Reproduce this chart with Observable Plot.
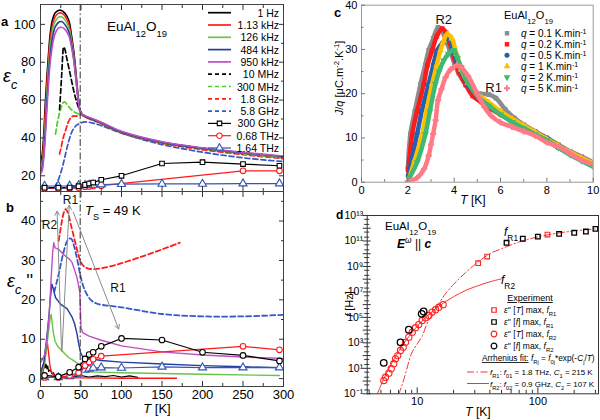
<!DOCTYPE html>
<html><head><meta charset="utf-8">
<script src="https://cdn.jsdelivr.net/npm/d3@7"></script>
<script src="https://cdn.jsdelivr.net/npm/@observablehq/plot@0.6"></script>
<style>
body{margin:0;background:#fff;}
#wrap{position:relative;width:600px;height:420px;font-family:"Liberation Sans",Arial,sans-serif;}
#wrap svg{position:absolute;left:0;top:0;overflow:visible;}
</style></head><body><div id="wrap"></div>
<script>
// ================= DATA =================
// Panel a: eps_c' vs T  ([T (K), eps'])
const freqLabels = ["1 Hz","1.13 kHz","126 kHz","484 kHz","950 kHz","10 MHz","300 MHz","1.8 GHz","5.8 GHz","300 GHz","0.68 THz","1.64 THz"];
const epsRe_1Hz   = [[0,27],[2,31],[4,42],[6,59],[8,73],[10,85],[12,95],[14.5,102],[18,106],[22,107.3],[25,107.5],[30,106],[35,102],[38,95],[41,86],[43,78],[45,68.6],[47,60],[49,54.5],[52,52.3],[55,51.5],[75,48],[100,43],[150,37.6],[200,34.5],[250,32],[300,30]];
const epsRe_113k  = [[0,25],[2,28],[4,38],[6,54],[8,69],[10,82],[12,92],[15,100],[18,104],[22,105.8],[26,106],[30,104.5],[35,100],[38,93],[41,84],[43,76],[45,67],[47,59],[49,54],[52,52.3],[55,51.5],[75,48],[100,43],[150,37.6],[200,34.5],[250,32],[300,30]];
const epsRe_126k  = [[0,23.5],[2,26],[4,34],[6,48],[8,64],[10,77],[12,88],[15,97],[18,101.5],[22,103.7],[26,104],[30,102.5],[35,98],[38,91.5],[41,83],[43,75],[45,66.5],[47,59],[49,54],[52,52.3],[55,51.5],[75,48],[100,43],[150,37.6],[200,34.5],[250,32],[300,30]];
const epsRe_484k  = [[0,22],[2,24],[4,31],[6,44],[8,60],[10,73],[12,84],[15,93.5],[18,98.5],[22,101],[26,101.5],[30,100],[35,96],[38,90],[41,82],[43,74.5],[45,66],[47,58.5],[49,54],[52,52.3],[55,51.5],[75,48],[100,43.2],[150,37.8],[200,34.6],[250,32.2],[300,30.2]];
const epsRe_950k  = [[0,21],[2,22.5],[4,29],[6,41],[8,56],[10,69],[12,80],[15,89.5],[18,95],[22,98],[26,98.5],[30,97.5],[35,94],[38,88.5],[41,81],[43,74],[45,66],[47,58.5],[49,54],[52,52.5],[55,51.8],[75,48.3],[100,43.5],[150,38],[200,34.8],[250,32.4],[300,30.4]];
const epsRe_10M   = [[23.5,55],[25,65],[26.5,76],[27.5,84],[28.5,88],[30,87],[32,83],[35,77],[38,71],[41,65],[44,60],[47,56],[49,54],[52,52.3],[55,51.5],[75,48],[100,43],[150,37.6],[200,34.5],[250,32],[300,30]];
const epsRe_300M  = [[18.5,42],[20,46],[22,50.5],[24,54],[26,57],[28,58.6],[30,59],[33,57.5],[37,55.5],[41,54],[45,53],[49,52.5],[55,51.3],[75,47.8],[100,42.8],[150,37.4],[200,34.2],[250,31.6],[300,29.5]];
const epsRe_18G   = [[23.5,31.5],[25.5,35],[28,40],[31,44],[34,48],[37,50.5],[40,51.5],[44,51.5],[48,52],[50,52.3],[55,51],[75,47.5],[100,42.6],[150,37.2],[200,33.8],[250,31.2],[300,29]];
const epsRe_58G   = [[17,14],[20,16],[23,19],[26,23],[29,28],[32,33.5],[35,38.5],[38,42.5],[41,45],[44,46.5],[48,47.5],[55,48.5],[65,47.8],[75,46.5],[100,42.5],[150,36.5],[200,32.5],[250,29.5],[300,27.5]];
// THz (markers)
const T_thz  = [5,22,36,47,55,60,65,75,100,150,200,250,295];
const T_068  = [5,22,36,47,55,60,65,75,250,295];
const epsRe_300G  = [13.7,13.7,13.8,14.5,15.2,15.9,16.4,17.9,20,26.5,27.2,26.2,25.3];
const epsRe_068T  = [13.4,13.4,13.5,13.8,14.2,14.4,14.6,14.8,22.6,22.6];
const epsRe_164T  = [14.6,14.6,14.7,14.9,15.0,15.1,15.2,15.4,15.6,15.7,15.7,15.9,15.9];

// Panel b: eps_c'' vs T
const epsIm_1Hz   = [[0,0.3],[1.5,1.5],[3,3.5],[4,2.5],[5,4],[6,2.8],[7,3.6],[8,2.5],[9,3.2],[10,1.8],[12,2.3],[14,1.2],[16,1.5],[18,0.6],[22,0.3],[30,0.2],[40,0.4],[50,0.8],[60,0.4],[70,0.7],[80,0.5],[90,0.8],[100,0.4],[110,0.7],[120,0.3]];
const epsIm_113k  = [[0,0.3],[3,1.5],[5,4],[7,7],[8.5,9],[10,6.5],[11.5,3.5],[13,2],[15,1.2],[18,0.7],[22,0.4],[30,0.3],[50,0.2],[100,0.1],[168,0.1]];
const epsIm_126k  = [[0,1],[4,3],[7,7],[10,12],[12,15.5],[13.2,16.3],[14.5,14],[16,11.5],[18,9.5],[21,8.3],[25,7.4],[30,6.3],[35,5.3],[40,4.7],[45,4.0],[49,3.3],[52,2],[60,1.7],[100,1.5],[150,1.3],[200,1.1],[295,0.8]];
const epsIm_484k  = [[0,1.5],[4,4],[7,9],[10,15],[12,20],[14,24],[15.5,23],[18.5,20.6],[24.7,18.9],[33,17.7],[39,15.6],[42,14],[45,11.4],[47,9],[49.3,6.7],[52,5.6],[60,5.1],[75,4.6],[100,4.2],[150,3.7],[200,3.3],[250,3],[295,2.8]];
const epsIm_950k  = [[0,4],[5,6],[8,10],[11,17],[13,25],[15,32],[16.4,34.5],[18,33.2],[22.6,32.8],[26,32],[30.8,31.1],[35,30.5],[39,29.5],[45,25.7],[48.5,22],[50,13],[52,11.7],[60,10.8],[74,9.8],[100,8.3],[150,6.8],[200,6],[250,5.5],[300,5.1]];
const epsIm_18G   = [[22.5,35],[24,37],[26.5,40],[29,42.3],[31,43],[33,42.5],[35,41.3],[37,39.5],[40,37],[43,34.5],[46,32],[49,30],[53,28.6],[58,28],[65,27.8],[75,28],[90,28.7],[100,29.3],[127,31.1],[150,32.8],[172,34.5]];
const epsIm_58G   = [[17,22],[20,24.5],[23,27],[26,30],[29,32.5],[32,34.5],[35,35.5],[38,35.5],[41,34],[44,31.5],[47,28.5],[50,25.5],[55,22.3],[62,20],[70,19],[85,18.5],[100,18.1],[150,16.4],[200,15.8],[250,15.8],[300,16.2]];
const epsIm_300G  = [0.8,0.5,1.6,2.9,5.0,6.1,6.7,8.2,10.2,9.8,6.7,5.9,4.5];
const epsIm_068T  = [0.3,0.3,0.8,1.5,3.3,4.2,4.9,5.7,8.2,7.3];
const epsIm_164T  = [0.3,0.3,0.6,1.3,2.2,2.5,2.7,2.8,2.7,3.0,2.8,2.8,2.8];
const bLabels = [{T:11,v:39,text:"R2"},{T:37,v:45.3,text:"R1"},{T:95.6,v:23,text:"R1"}];
const bArrows = [{T1:26,v1:7,T2:20.5,v2:42.5},{T1:26.5,v1:7,T2:35.5,v2:44},{T1:40.3,v1:42.3,T2:96.5,v2:12.6}];

// Panel c: pyrocurrent J/q vs T for heating rates
const rateLabels = ["0.1","0.2","0.5","1","2","5"];
const Jq_01 = [[2,3],[2.11,10.9],[2.3,16],[2.55,22.2],[2.75,26.5],[2.9,29.8],[3.1,32.5],[3.3,35],[3.45,34.5],[3.6,32.5],[3.8,30],[4.0,27],[4.2,24.5],[4.5,22],[4.8,20.5],[5.1,20],[5.5,19.8],[5.8,19],[6.2,16.5],[6.6,14.5],[7,13],[7.5,11.5],[8,10],[8.5,8.5],[9,7],[9.5,5.8],[10,4.5]];
const Jq_02 = [[2.02,2.7],[2.19,10.9],[2.4,16],[2.69,22.2],[2.85,26.5],[3.05,29.8],[3.25,33],[3.48,34.7],[3.65,33.8],[3.8,31.5],[4.0,28],[4.2,25],[4.5,22],[4.8,19.5],[5.2,18],[5.6,16.5],[6,15.3],[6.5,13.8],[7,12.3],[7.5,11],[8,9.5],[8.5,7.8],[9,6.5],[9.5,5.2],[10,4]];
const Jq_05 = [[2.02,1.5],[2.4,10.9],[2.6,16],[2.9,22.2],[3.1,26.5],[3.27,29.8],[3.5,31.5],[3.77,32.4],[3.95,30],[4.1,27.5],[4.3,25],[4.6,22],[5,19.5],[5.5,17.3],[6,15.5],[6.5,14],[7,12.5],[7.5,11.2],[8,10],[8.5,8.2],[9,6.8],[9.5,5.5],[10,4.3]];
const Jq_1  = [[2.05,0.8],[2.3,5],[2.62,10.9],[2.8,16],[3.05,22.2],[3.25,26.5],[3.41,29.8],[3.55,32],[3.7,33.5],[3.9,32.5],[4.1,29],[4.3,25.5],[4.6,22.5],[5,20],[5.5,18],[6,16],[6.5,14.3],[7,12.8],[7.5,11.3],[8,9.8],[8.5,8.2],[9,6.8],[9.5,5.5],[10,4.3]];
const Jq_2  = [[2.05,0.8],[2.4,4.5],[2.76,10.9],[2.95,16],[3.19,22.2],[3.35,25],[3.55,27.5],[3.75,29],[3.98,29.8],[4.15,28],[4.3,26],[4.6,22.5],[5,19.5],[5.5,17.3],[6,15.3],[6.5,13.6],[7,12.2],[7.5,10.8],[8,9.5],[8.5,7.8],[9,6.2],[9.5,4.8],[10,3.5]];
const Jq_5  = [[2,0.2],[2.4,1],[2.7,3],[2.9,6],[3.0,8.5],[3.09,10.9],[3.2,14],[3.3,18.5],[3.45,21],[3.63,23.7],[3.85,25.5],[4.13,26.4],[4.3,26],[4.6,24],[5,20],[5.3,17],[5.6,15],[6,13.5],[6.5,12.5],[7,11.5],[7.5,10.5],[8,9],[8.5,8],[9,6.5],[9.5,5],[10,4]];
const cLabels = [{T:3.55,v:36.8,text:"R2"},{T:5.7,v:21.4,text:"R1"}];

// Panel d: relaxation frequencies vs T (log-log)
const fitR1 = [[7,0.083],[7.5,0.5],[8,3.85],[9,1.6e2],[10,8.3e2],[11,3.4e3],[12,3.0e4],[13,1.1e5],[15,1.07e6],[17,6.5e6],[20,3.9e7],[25,3.1e8],[30,1.4e9],[40,1.0e10],[50,2.45e10],[70,8.3e10],[100,2.1e11],[150,4.3e11],[200,6.1e11],[250,7.6e11],[318,9.2e11]];
const fitR2 = [[4.6,0.071],[5,0.46],[5.5,3.4],[6,16.2],[7,2.1e2],[8,1.4e3],[9,6.0e3],[10,2.0e4],[12,1.2e5],[15,7.2e5],[20,4.2e6],[25,1.26e7],[30,2.5e7],[40,6.2e7],[50,1.06e8]];
const dR1_T_T = [32,38,120];         const dR1_T_f = [1.8e9,6.0e9,3.2e11];
const dR1_f_T = [55,75,100,150,200,250,300]; const dR1_f_f = [7.2e10,1.5e11,2.2e11,3.6e11,4.4e11,5.5e11,8.9e11];
const dR2_T_T = [5.28,5.46,5.82,6.09,6.39,6.61,6.9,7.27,7.66,8.0,8.52,9.1,9.68,10.3,11.0,11.7,12.5,13.3,14.2,15.1,16.4];
const dR2_T_f = [1.1,2.0,4.2,9.3,23,56,100,250,460,1.1e3,2.8e3,6.9e3,1.55e4,2.75e4,5.8e4,9.3e4,1.4e5,2.6e5,4.0e5,6.3e5,1.0e6];
const dR2_f_T = [5.28,7.27,8.52,10.9,11.3]; const dR2_f_f = [27,1.1e3,1.07e4,1.9e5,2.9e5];

// ================= HELPERS =================
const W = 600, H = 420;
const pairs = (arr) => arr.map(([T, v]) => ({T, v}));
const zipTV = (Ts, vs) => Ts.map((T, i) => ({T, v: vs[i]}));
const base = {width: W, height: H, style: {background: "transparent", overflow: "visible", fontFamily: "'Liberation Sans', Arial, sans-serif"}};
function tk(kind, anchor, values, size, color = "#333", cross = false) {
  const sh = cross ? size / 2 : size;
  const o = {anchor, ticks: values, tickSize: size, tickFormat: () => "", label: null, stroke: color};
  if (kind === "x") { o.dy = anchor === "bottom" ? -sh : sh; return Plot.axisX(o); }
  o.dx = anchor === "left" ? sh : -sh; return Plot.axisY(o);
}
function lb(kind, anchor, values, fmt, fontSize, pad) {
  const o = {anchor, ticks: values, tickSize: 0, tickPadding: pad, tickFormat: fmt, label: null, fontSize};
  return kind === "x" ? Plot.axisX(o) : Plot.axisY(o);
}
const range = (a, b, s) => d3.range(a, b + 1e-9, s);
const dashDot = "7,2.5,1.5,2.5";
const C = {black:"#000", red:"#ff1a1a", green:"#6cc24a", blue:"#1f3fa0", mag:"#c04ec4", dgreen:"#4fcf25", dblue:"#3557c8", tblue:"#3355b5"};
const triDown = {draw(ctx, size){ const y = -Math.sqrt(size / (Math.sqrt(3) * 3)); ctx.moveTo(0, -y * 2); ctx.lineTo(-Math.sqrt(3) * y, y); ctx.lineTo(Math.sqrt(3) * y, y); ctx.closePath(); }};

const wrap = document.getElementById("wrap");

// ================= PANEL A =================
const aSolid = [[epsRe_1Hz,C.black],[epsRe_113k,C.red],[epsRe_126k,C.green],[epsRe_484k,C.blue],[epsRe_950k,C.mag]];
const aDash = [[epsRe_58G,C.dblue],[epsRe_18G,C.red],[epsRe_300M,C.dgreen],[epsRe_10M,C.black]];
const pa = Plot.plot({...base, marginLeft: 40, marginRight: 317, marginTop: 4, marginBottom: 229,
  x: {domain: [0, 300]}, y: {domain: [11.7, 110.5]},
  marks: [
    ...aDash.map(([d, c]) => Plot.line(pairs(d), {x: "T", y: "v", stroke: c, strokeWidth: 1.7, strokeDasharray: "5,3", curve: "catmull-rom", clip: true})),
    ...aSolid.map(([d, c]) => Plot.line(pairs(d), {x: "T", y: "v", stroke: c, strokeWidth: 1.6, curve: "catmull-rom", clip: true})),
    Plot.ruleX([49], {stroke: "#333", strokeWidth: 1, strokeDasharray: dashDot}),
    Plot.line(zipTV(T_068, epsRe_068T), {x: "T", y: "v", stroke: C.red, strokeWidth: 1.2}),
    Plot.line(zipTV(T_thz, epsRe_164T), {x: "T", y: "v", stroke: C.tblue, strokeWidth: 1.2}),
    Plot.line(zipTV(T_thz, epsRe_300G), {x: "T", y: "v", stroke: C.black, strokeWidth: 1.2}),
    Plot.dot(zipTV(T_068, epsRe_068T), {x: "T", y: "v", stroke: C.red, fill: "white", r: 2.8, strokeWidth: 1.1}),
    Plot.dot(zipTV(T_thz, epsRe_164T), {x: "T", y: "v", symbol: "triangle", stroke: C.tblue, fill: "white", r: 3, strokeWidth: 1.1}),
    Plot.dot(zipTV(T_thz, epsRe_300G), {x: "T", y: "v", symbol: "square", stroke: C.black, fill: "white", r: 2.6, strokeWidth: 1.1}),
    Plot.frame({stroke: "#444"}),
    tk("x", "bottom", range(0, 300, 50), 5), tk("x", "bottom", range(25, 275, 50), 3),
    tk("x", "top", range(0, 300, 50), 5), tk("x", "top", range(25, 275, 50), 3),
    tk("y", "left", [20, 40, 60, 80, 100], 5), tk("y", "left", [30, 50, 70, 90], 3),
    tk("y", "right", [20, 40, 60, 80, 100], 5), tk("y", "right", [30, 50, 70, 90], 3),
    lb("y", "left", [20, 40, 60, 80, 100], d => d, 13, 5)
  ]});
wrap.appendChild(pa);

// ================= PANEL B =================
const pb = Plot.plot({...base, marginLeft: 40, marginRight: 317, marginTop: 191, marginBottom: 34,
  x: {domain: [0, 300]}, y: {domain: [-2.0, 47.5]},
  marks: [
    Plot.line(pairs(epsIm_1Hz), {x: "T", y: "v", stroke: C.black, strokeWidth: 1.2, clip: true}),
    Plot.line(pairs(epsIm_113k), {x: "T", y: "v", stroke: C.red, strokeWidth: 1.4, clip: true}),
    Plot.line(pairs(epsIm_126k), {x: "T", y: "v", stroke: C.green, strokeWidth: 1.4, clip: true}),
    Plot.line(pairs(epsIm_484k), {x: "T", y: "v", stroke: C.blue, strokeWidth: 1.4, clip: true}),
    Plot.line(pairs(epsIm_950k), {x: "T", y: "v", stroke: C.mag, strokeWidth: 1.4, clip: true}),
    Plot.line(pairs(epsIm_58G), {x: "T", y: "v", stroke: C.dblue, strokeWidth: 1.8, strokeDasharray: "5,3", curve: "catmull-rom", clip: true}),
    Plot.line(pairs(epsIm_18G), {x: "T", y: "v", stroke: C.red, strokeWidth: 1.8, strokeDasharray: "5,3", curve: "catmull-rom", clip: true}),
    Plot.ruleX([49], {stroke: "#333", strokeWidth: 1, strokeDasharray: dashDot}),
    Plot.line(zipTV(T_thz, epsIm_164T), {x: "T", y: "v", stroke: C.tblue, strokeWidth: 1.2}),
    Plot.line(zipTV(T_068, epsIm_068T), {x: "T", y: "v", stroke: C.red, strokeWidth: 1.2}),
    Plot.line(zipTV(T_thz, epsIm_300G), {x: "T", y: "v", stroke: C.black, strokeWidth: 1.2}),
    Plot.dot(zipTV(T_thz, epsIm_164T), {x: "T", y: "v", symbol: "triangle", stroke: C.tblue, fill: "white", r: 3, strokeWidth: 1.1}),
    Plot.dot(zipTV(T_068, epsIm_068T), {x: "T", y: "v", stroke: C.red, fill: "white", r: 2.8, strokeWidth: 1.1}),
    Plot.dot(zipTV(T_thz, epsIm_300G), {x: "T", y: "v", stroke: C.black, fill: "white", r: 2.8, strokeWidth: 1.1}),
    Plot.arrow(bArrows, {x1: "T1", y1: "v1", x2: "T2", y2: "v2", stroke: "#8a8a8a", strokeWidth: 1, headLength: 7}),
    Plot.text(bLabels, {x: "T", y: "v", text: "text", fontSize: 12, fill: "#111"}),
    Plot.frame({stroke: "#444"}),
    tk("x", "bottom", range(0, 300, 50), 5), tk("x", "bottom", range(25, 275, 50), 3),
    tk("x", "top", range(0, 300, 50), 5), tk("x", "top", range(25, 275, 50), 3),
    tk("y", "left", [0, 10, 20, 30, 40], 5), tk("y", "left", [5, 15, 25, 35, 45], 3),
    tk("y", "right", [0, 10, 20, 30, 40], 5), tk("y", "right", [5, 15, 25, 35, 45], 3),
    lb("y", "left", [0, 10, 20, 30, 40], d => d, 13, 5),
    lb("x", "bottom", range(0, 300, 50), d => d, 13, 3)
  ]});
wrap.appendChild(pb);

// ================= PANEL C =================
const cSeries = [
  [Jq_01, "#8c8c8c", "square"], [Jq_02, "#ff1a1a", "square"], [Jq_05, "#2560b0", "circle"],
  [Jq_1, "#ffbf00", "triangle"], [Jq_2, "#3cba74", triDown], [Jq_5, "#ff7a86", "cross"]
];
const pc = Plot.plot({...base, marginLeft: 361, marginRight: 7.3, marginTop: 4.7, marginBottom: 238.3,
  x: {domain: [0, 10]}, y: {domain: [0, 40]},
  marks: [
    ...cSeries.flatMap(([d, c, s]) => [
      Plot.line(pairs(d), {x: "T", y: "v", stroke: c, strokeWidth: 4.5, curve: "catmull-rom", clip: true}),
      Plot.dot(pairs(d), {x: "T", y: "v", fill: c, symbol: s, r: 2.6, clip: true})
    ]),
    Plot.text(cLabels, {x: "T", y: "v", text: "text", fontSize: 13, fill: "#111"}),
    Plot.frame({stroke: "#999"}),
    tk("x", "bottom", range(0, 10, 2), 4, "#777"), tk("x", "bottom", range(1, 9, 2), 2.5, "#777"),
    tk("y", "left", range(0, 40, 10), 4, "#777"), tk("y", "left", range(5, 35, 10), 2.5, "#777"),
    lb("x", "bottom", range(0, 10, 2), d => d, 11, 4),
    lb("y", "left", range(0, 40, 10), d => d, 11, 4)
  ]});
wrap.appendChild(pc);

// ================= PANEL D =================
const supMap = {"-":"⁻","0":"⁰","1":"¹","2":"²","3":"³","4":"⁴","5":"⁵","6":"⁶","7":"⁷","8":"⁸","9":"⁹"};
const sup = (n) => String(n).split("").map(ch => supMap[ch]).join("");
const yDec = d3.range(-1, 14).map(e => Math.pow(10, e));
const yMinor = d3.range(-1, 13).flatMap(e => [2, 5].map(m => m * Math.pow(10, e)));
const xMajor = [10, 100];
const xMinor = [4, 5, 6, 7, 8, 9, 20, 30, 40, 50, 60, 70, 80, 90, 200, 300];
const pd = Plot.plot({...base, marginLeft: 366.7, marginRight: 2, marginTop: 215, marginBottom: 26.7,
  x: {type: "log", domain: [3.85, 318]}, y: {type: "log", domain: [0.1, 1e13]},
  marks: [
    Plot.line(pairs(fitR1), {x: "T", y: "v", stroke: "#ff3030", strokeWidth: 1, strokeDasharray: dashDot, curve: "catmull-rom", clip: true}),
    Plot.line(pairs(fitR2), {x: "T", y: "v", stroke: "#ff3030", strokeWidth: 1, curve: "catmull-rom", clip: true}),
    Plot.dot(zipTV(dR2_T_T, dR2_T_f), {x: "T", y: "v", stroke: "#ff2020", r: 3.1, strokeWidth: 1.1}),
    Plot.dot(zipTV(dR2_f_T, dR2_f_f), {x: "T", y: "v", stroke: "#000", r: 3.3, strokeWidth: 1.3}),
    Plot.dot(zipTV(dR1_T_T, dR1_T_f), {x: "T", y: "v", symbol: "square", stroke: "#ff2020", r: 2.6, strokeWidth: 1.1}),
    Plot.dot(zipTV(dR1_f_T, dR1_f_f), {x: "T", y: "v", symbol: "square", stroke: "#000", r: 2.6, strokeWidth: 1.3}),
    Plot.frame({stroke: "#333"}),
    tk("x", "bottom", xMajor, 6), tk("x", "bottom", xMinor, 3.5),
    tk("y", "left", yDec, 8, "#333", true), tk("y", "left", yMinor, 5, "#333", true),
    lb("x", "bottom", xMajor, d => d, 11, 3),
    lb("y", "left", yDec, v => { const e = Math.round(Math.log10(v)); return (e % 2 !== 0) ? "10" + sup(e) : ""; }, 10.5, 4)
  ]});
wrap.appendChild(pd);

// ================= OVERLAY TEXT & LEGENDS =================
const ov = d3.select(wrap).append("svg").attr("width", W).attr("height", H)
  .attr("font-family", "'Liberation Sans', Arial, sans-serif");
function rich(x, y, parts, o = {}) {
  const t = ov.append("text").attr("x", x).attr("y", y).attr("font-size", o.size || 12)
    .attr("text-anchor", o.anchor || "start").attr("fill", o.fill || "#000");
  if (o.rotate) t.attr("transform", `rotate(${o.rotate},${x},${y})`);
  if (o.weight) t.attr("font-weight", o.weight);
  for (const p of parts) {
    const [s, st = ""] = typeof p === "string" ? [p, ""] : p;
    const ts = t.append("tspan").text(s);
    if (st.includes("i")) ts.attr("font-style", "italic");
    if (st.includes("b")) ts.attr("font-weight", "bold");
    if (st.includes("_")) ts.attr("baseline-shift", "sub").attr("font-size", "70%");
    if (st.includes("^")) ts.attr("baseline-shift", "super").attr("font-size", "70%");
    if (st.includes("u")) ts.attr("text-decoration", "underline");
  }
  return t;
}
// panel letters
rich(1, 26, ["a"], {size: 13, weight: "bold"});
rich(6, 212, ["b"], {size: 13, weight: "bold"});
rich(334, 17, ["c"], {size: 13, weight: "bold"});
rich(336, 219, ["d"], {size: 12, weight: "bold"});
// panel a
rich(107, 31, ["EuAl", ["12", "_"], "O", ["19", "_"]], {size: 13.5});
rich(3, 82, [["ε", "i"], ["c", "i_"], " '"], {size: 18});
// legend a
const aLeg = [
  {c: C.black, dash: null}, {c: C.red, dash: null}, {c: C.green, dash: null}, {c: C.blue, dash: null}, {c: C.mag, dash: null},
  {c: C.black, dash: "4,3"}, {c: C.dgreen, dash: "4,3"}, {c: C.red, dash: "4,3"}, {c: C.dblue, dash: "4,3"},
  {c: C.black, sym: d3.symbolSquare}, {c: C.red, sym: d3.symbolCircle}, {c: C.tblue, sym: d3.symbolTriangle}
];
aLeg.forEach((e, i) => {
  const y = 12.7 + i * 12.3;
  ov.append("line").attr("x1", 208).attr("x2", 231).attr("y1", y).attr("y2", y)
    .attr("stroke", e.c).attr("stroke-width", e.sym ? 1.2 : 1.7).attr("stroke-dasharray", e.dash);
  if (e.sym) ov.append("path").attr("d", d3.symbol().type(e.sym).size(e.sym === d3.symbolSquare ? 20 : 24)())
    .attr("transform", `translate(219.5,${y})`).attr("fill", "white").attr("stroke", e.c).attr("stroke-width", 1.1);
  rich(279, y + 4, [freqLabels[i]], {size: 10.5, anchor: "end"});
});
// panel b
rich(85, 215, [["T", "i"], ["S", "_"], " = 49 K"], {size: 13});
rich(7, 287, [["ε", "i"], ["c", "i_"], " ''"], {size: 18});
rich(157, 413, [["T", "i"], " [K]"], {size: 13, anchor: "middle"});
// panel c
rich(504, 19, ["EuAl", ["12", "_"], "O", ["19", "_"]], {size: 11});
const cSym = [d3.symbolSquare, d3.symbolSquare, d3.symbolCircle, d3.symbolTriangle, triDown, d3.symbolCross];
cSeries.forEach(([d, c], i) => {
  const y = 33.3 + i * 11;
  ov.append("path").attr("d", d3.symbol().type(cSym[i]).size(20)()).attr("transform", `translate(507,${y})`).attr("fill", c);
  rich(521, y + 3.5, [["q", "i"], ` = ${rateLabels[i]} K.min`, ["-1", "^"]], {size: 10});
});
rich(343, 78, [["J", "i"], "/", ["q", "i"], " [μC.m", ["-2", "^"], ".K", ["-1", "^"], "]"], {size: 11, anchor: "middle", rotate: -90});
rich(473, 204, [["T", "i"], " [K]"], {size: 12, anchor: "middle"});
// panel d
rich(385, 230, ["EuAl", ["12", "_"], "O", ["19", "_"]], {size: 11.5});
rich(397, 248, [["E", "ib"], ["ω", "^i"], " || ", ["c", "ib"]], {size: 12});
rich(504, 236, [["f", "i"], ["R1", "_"]], {size: 12});
rich(501, 284, [["f", "i"], ["R2", "_"]], {size: 12});
rich(353, 304, [["f", "i"], " [Hz]"], {size: 11, anchor: "middle", rotate: -90});
rich(478, 416, [["T", "i"], " [K]"], {size: 12, anchor: "middle"});
rich(530, 301, [["Experiment", "u"]], {size: 9, anchor: "middle"});
const dLeg = [
  {sym: d3.symbolSquare, c: "#ff2020", v: "T", s: "R1"},
  {sym: d3.symbolSquare, c: "#000", v: "f", s: "R1"},
  {sym: d3.symbolCircle, c: "#ff2020", v: "T", s: "R2"},
  {sym: d3.symbolCircle, c: "#000", v: "f", s: "R2"}
];
dLeg.forEach((e, i) => {
  const y = 310 + i * 12;
  ov.append("path").attr("d", d3.symbol().type(e.sym).size(e.sym === d3.symbolSquare ? 20 : 26)())
    .attr("transform", `translate(494,${y})`).attr("fill", "none").attr("stroke", e.c).attr("stroke-width", 1.2);
  rich(504, y + 3, [["ε", "i"], "'' [", [e.v, "i"], "] max, ", ["f", "i"], [e.s, "_"]], {size: 8.5});
});
rich(482, 361, [["Arrhenius fit:", "u"], " ", ["f", "i"], ["Rj", "_"], " = ", ["f", "i"], ["0j", "_"], "*exp(-", ["C", "i"], ["j", "_"], "/", ["T", "i"], ")"], {size: 8.3});
ov.append("line").attr("x1", 467).attr("x2", 489).attr("y1", 372).attr("y2", 372).attr("stroke", "#ff3030").attr("stroke-dasharray", dashDot);
ov.append("line").attr("x1", 467).attr("x2", 489).attr("y1", 383.5).attr("y2", 383.5).attr("stroke", "#ff3030");
rich(490, 375, [["f", "i"], ["R1", "_"], ": ", ["f", "i"], ["01", "_"], " = 1.8 THz, ", ["C", "i"], ["1", "_"], " = 215 K"], {size: 8});
rich(490, 386.5, [["f", "i"], ["R2", "_"], ": ", ["f", "i"], ["02", "_"], " = 0.9 GHz, ", ["C", "i"], ["2", "_"], " = 107 K"], {size: 8});
</script></body></html>
